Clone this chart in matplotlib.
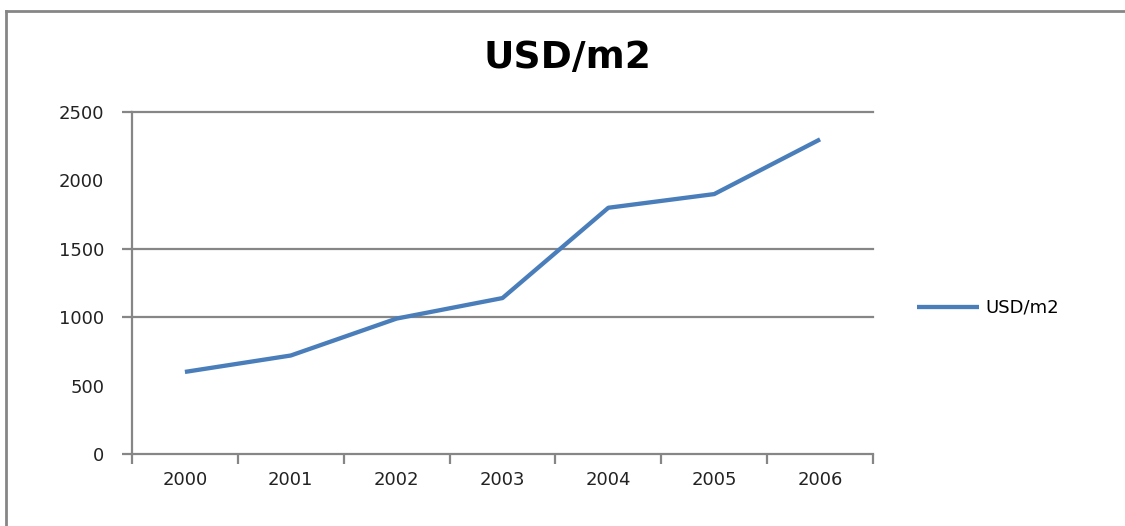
import matplotlib
matplotlib.use("Agg")
from matplotlib import pyplot as plt
from matplotlib.lines import Line2D

years = ["2000", "2001", "2002", "2003", "2004", "2005", "2006"]
usd_per_m2 = [600, 720, 990, 1140, 1800, 1900, 2300]
y_ticks = [0, 500, 1000, 1500, 2000, 2500]
# only these grid lines are visible in the original picture
visible_grid = [1000, 1500, 2500]

gray = "#868686"
blue = "#4a7ebb"
plt.rcParams['font.family'] = ['DejaVu Sans']

fig = plt.figure(figsize=(11.25, 5.26), dpi=100)
ax = fig.add_axes([132 / 1125, 1 - 454 / 526, (873 - 132) / 1125, (454 - 112) / 526])

x = list(range(len(years)))
ax.plot(x, usd_per_m2, color=blue, linewidth=3.1, solid_capstyle='butt', label="USD/m2", zorder=3)

for g in visible_grid:
	ax.axhline(g, color=gray, linewidth=1.6, zorder=1, clip_on=False)

ax.set_xlim(-0.5, len(years) - 0.5)
ax.set_ylim(0, 2500)

ax.set_xticks(x)
ax.set_xticklabels(years)
ax.set_xticks([i - 0.5 for i in range(len(years) + 1)], minor=True)
ax.set_yticks(y_ticks)
ax.set_yticks([0] + visible_grid, minor=True)
ax.yaxis.remove_overlapping_locs = False

ax.tick_params(axis='both', which='major', length=0, labelsize=13, colors='#222222')
ax.tick_params(axis='x', which='major', pad=12)
ax.tick_params(axis='y', which='major', pad=20)
ax.tick_params(axis='both', which='minor', length=7, width=1.6, color=gray)

for side in ['top', 'right']:
	ax.spines[side].set_visible(False)
for side in ['left', 'bottom']:
	ax.spines[side].set_color(gray)
	ax.spines[side].set_linewidth(1.6)

fig.text(567 / 1125, 1 - 58 / 526, "USD/m2", ha='center', va='center', fontsize=27, fontweight='bold')

ax.legend(loc='center left', bbox_to_anchor=(901 / 1125, 1 - 308 / 526), bbox_transform=fig.transFigure,
	frameon=False, fontsize=13, handlelength=3.4, handletextpad=0.4)

# outer chart border (left and top edges visible)
fig.add_artist(Line2D([6 / 1125, 6 / 1125], [0, 1 - 11 / 526], color=gray, linewidth=2))
fig.add_artist(Line2D([6 / 1125, 1], [1 - 11 / 526, 1 - 11 / 526], color=gray, linewidth=2))

fig.savefig("out.png", dpi=100)
